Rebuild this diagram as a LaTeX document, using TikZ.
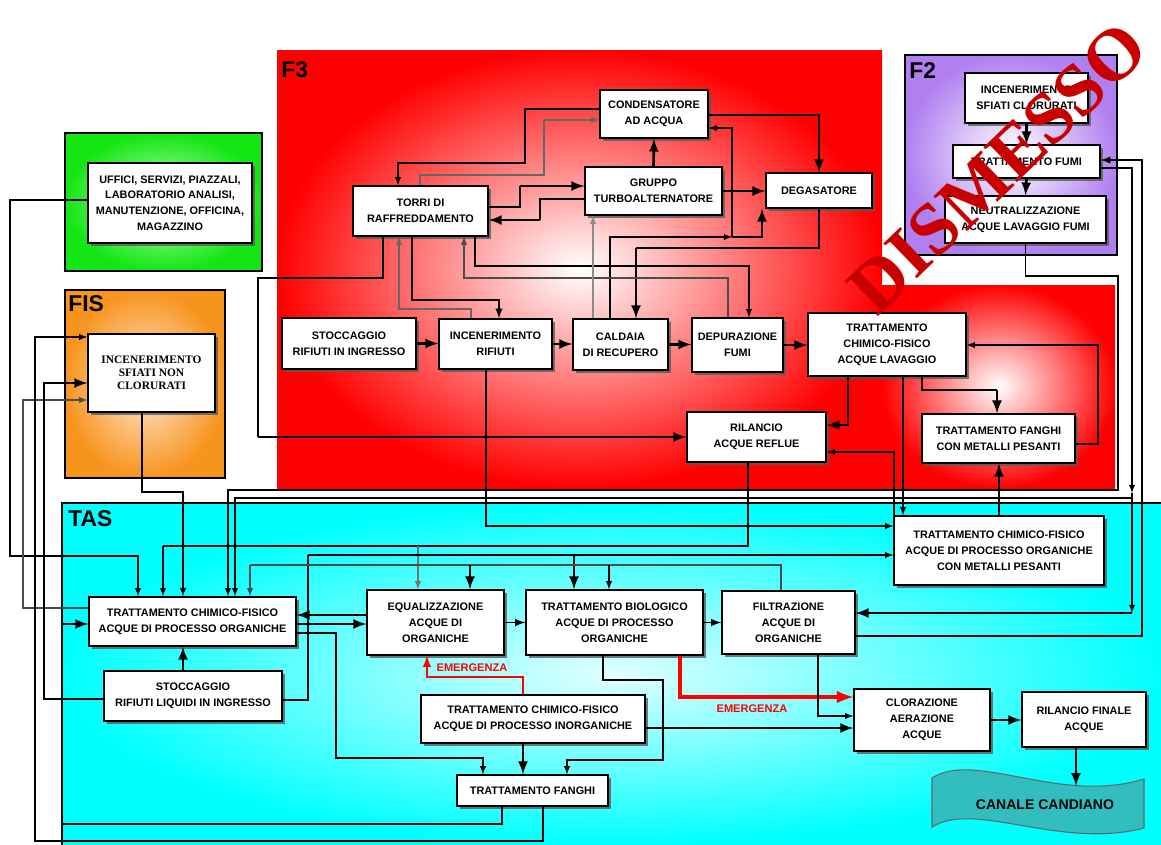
\documentclass[tikz,border=0pt]{standalone}
\usepackage{fontspec}
\setmainfont{Liberation Sans}
\newfontfamily\serifrm{Liberation Serif}
\usetikzlibrary{shadows}
\definecolor{f3red}{RGB}{255,0,0}
\definecolor{f2purple}{RGB}{176,128,240}
\definecolor{fisorange}{RGB}{247,148,30}
\definecolor{greenzone}{RGB}{20,230,20}
\definecolor{tascyan}{RGB}{0,255,255}
\definecolor{canalteal}{RGB}{50,190,190}
\definecolor{dismred}{RGB}{200,0,0}
\begin{document}
\begin{tikzpicture}[x=0.02cm,y=-0.02cm,
    box/.style={draw,line width=0.8pt,fill=white,align=center,inner sep=1pt,
      font=\bfseries\fontsize{6.2}{9}\selectfont,
      drop shadow={shadow xshift=1.8pt,shadow yshift=-1.8pt,fill=black!65,opacity=.8}},
    zone/.style={font=\bfseries\fontsize{13}{13}\selectfont,anchor=north west,inner sep=0pt},
    line/.style={line width=0.6pt},
    flow/.style={line width=0.6pt,-latex},
    bigflow/.style={line width=1.5pt,-latex},
    emerg/.style={red,line width=1.2pt,-latex},
    emergbig/.style={red,line width=2.2pt,-latex},
    emlabel/.style={red,font=\bfseries\fontsize{6.3}{6.3}\selectfont,inner sep=0pt}]
  \useasboundingbox (0,0) rectangle (1161,845);

  % zone
  \shade[inner color=green!25!white,outer color=greenzone] (65,133) rectangle (262,271);
  \draw[line width=0.8pt] (65,133) rectangle (262,271);
  \shade[inner color={rgb,255:red,255;green,235;blue,215},outer color=fisorange] (65,290) rectangle (225,478);
  \draw[line width=0.8pt] (65,290) rectangle (225,478);
  \shade[inner color=white,outer color=f3red] (277,50) rectangle (882,488);
  \shade[inner color=white,outer color=f3red] (882,285) rectangle (1115,488);
  \shade[inner color=white,outer color=f2purple] (905,55) rectangle (1117,255);
  \draw[line width=0.8pt] (905,55) rectangle (1117,255);
  \shade[inner color={rgb,255:red,225;green,255;blue,255},outer color=tascyan] (62,503) rectangle (1161,845);
  \draw[line width=0.8pt] (62,845) |- (1161,503);

  \node[zone] (labf3) at (281,61) {F3};
  \node[zone] (labf2) at (909,62) {F2};
  \node[zone] (labfis) at (68,295) {FIS};
  \node[zone] (labtas) at (68,510) {TAS};

  \node[box,minimum width=3.28cm,minimum height=1.6cm] (uffici) at (170,203) {UFFICI, SERVIZI, PIAZZALI,\\LABORATORIO ANALISI,\\MANUTENZIONE, OFFICINA,\\MAGAZZINO};
  \node[box,font=\serifrm\bfseries\fontsize{6.5}{7.3}\selectfont,minimum width=2.54cm,minimum height=1.56cm] (incsfiati) at (151.5,373) {INCENERIMENTO\\SFIATI NON\\CLORURATI};

  \node[box,minimum width=2.16cm,minimum height=0.96cm] (condens) at (654,114) {CONDENSATORE\\AD ACQUA};
  \node[box,minimum width=2.7cm,minimum height=1.0cm] (torri) at (420.5,211) {TORRI DI\\RAFFREDDAMENTO};
  \node[box,minimum width=2.74cm,minimum height=0.96cm] (gruppo) at (653.5,191) {GRUPPO\\TURBOALTERNATORE};
  \node[box,minimum width=2.12cm,minimum height=0.7cm] (degas) at (819,190.5) {DEGASATORE};
  \node[box,minimum width=2.68cm,minimum height=1.02cm] (stocc) at (349,343.5) {STOCCAGGIO\\RIFIUTI IN INGRESSO};
  \node[box,minimum width=2.26cm,minimum height=1.0cm] (incrif) at (495.5,344) {INCENERIMENTO\\RIFIUTI};
  \node[box,minimum width=1.9cm,minimum height=1.02cm] (caldaia) at (620.5,344.5) {CALDAIA\\DI RECUPERO};
  \node[box,minimum width=1.82cm,minimum height=1.08cm] (depur) at (737.5,345) {DEPURAZIONE\\FUMI};
  \node[box,minimum width=3.16cm,minimum height=1.26cm] (trattlav) at (887,344.5) {TRATTAMENTO\\CHIMICO-FISICO\\ACQUE LAVAGGIO};
  \node[box,minimum width=2.78cm,minimum height=1.0cm] (rilancio) at (756.5,437) {RILANCIO\\ACQUE REFLUE};
  \node[box,minimum width=3.06cm,minimum height=0.98cm] (fanghimet) at (998.5,438.5) {TRATTAMENTO FANGHI\\CON METALLI PESANTI};

  \node[box,minimum width=2.46cm,minimum height=1.0cm] (incclor) at (1026.5,98) {INCENERIMENTO\\SFIATI CLORURATI};
  \node[box,minimum width=2.94cm,minimum height=0.66cm] (trattfumi) at (1026.5,161.5) {TRATTAMENTO FUMI};
  \node[box,minimum width=3.22cm,minimum height=0.94cm] (neutr) at (1025.5,219.5) {NEUTRALIZZAZIONE\\ACQUE LAVAGGIO FUMI};

  \node[box,minimum width=4.14cm,minimum height=0.98cm] (tcfo) at (192.5,621.5) {TRATTAMENTO CHIMICO-FISICO\\ACQUE DI PROCESSO ORGANICHE};
  \node[box,minimum width=3.56cm,minimum height=1.0cm] (stoccliq) at (193,696) {STOCCAGGIO\\RIFIUTI LIQUIDI IN INGRESSO};
  \node[box,minimum width=2.74cm,minimum height=1.3cm] (equal) at (435.5,622.5) {EQUALIZZAZIONE\\ACQUE DI\\ORGANICHE};
  \node[box,minimum width=3.54cm,minimum height=1.3cm] (biolog) at (614.5,622.5) {TRATTAMENTO BIOLOGICO\\ACQUE DI PROCESSO\\ORGANICHE};
  \node[box,minimum width=2.66cm,minimum height=1.26cm] (filtr) at (788.5,622.5) {FILTRAZIONE\\ACQUE DI\\ORGANICHE};
  \node[box,minimum width=4.2cm,minimum height=1.38cm] (tcfmet) at (999,550.5) {TRATTAMENTO CHIMICO-FISICO\\ACQUE DI PROCESSO ORGANICHE\\CON METALLI PESANTI};
  \node[box,minimum width=4.48cm,minimum height=0.96cm] (tcfinorg) at (533,719) {TRATTAMENTO CHIMICO-FISICO\\ACQUE DI PROCESSO INORGANICHE};
  \node[box,minimum width=3.02cm,minimum height=0.62cm] (fanghi) at (532.5,790.5) {TRATTAMENTO FANGHI};
  \node[box,minimum width=2.72cm,minimum height=1.24cm] (clor) at (922,720) {CLORAZIONE\\AERAZIONE\\ACQUE};
  \node[box,minimum width=2.48cm,minimum height=1.1cm] (rilfin) at (1084,719.5) {RILANCIO FINALE\\ACQUE};

  \filldraw[fill=canalteal,draw=black!60,line width=0.6pt] (932,778) .. controls (975,750) and (1060,805) .. (1144,779)
    -- (1144,828) .. controls (1060,850) and (975,800) .. (932,827) -- cycle;
  \node[font=\bfseries\fontsize{8}{8}\selectfont] (canale) at (1045,805) {CANALE CANDIANO};
  \coordinate (canaletop) at (1076,786);

  % F3
  \draw[bigflow] (stocc.east) -- (stocc.east -| incrif.west);
  \draw[bigflow] (incrif.east) -- (incrif.east -| caldaia.west);
  \draw[bigflow] (caldaia.east) -- (caldaia.east -| depur.west);
  \draw[bigflow] (depur.east) -- (depur.east -| trattlav.west);
  \draw[bigflow] (gruppo.north) -- (condens.south);
  \draw[bigflow] (gruppo.east |- 0,191) -- (degas.west |- 0,191);
  \draw[bigflow] (condens.east |- 0,115) -| (degas.north);
  \draw[flow] (caldaia.north -| 610,0) |- (732,237);
  \draw[bigflow] (732,237) -| (degas.south -| 762,0);
  \draw[flow] (732,237) |- (condens.east |- 0,128);
  \draw[line] (degas.south) |- (636,248);
  \draw[bigflow] (636,248) -- (caldaia.north -| 636,0);
  \draw[line] (torri.east |- 0,207) -| (520,186);
  \draw[bigflow] (520,186) -- (gruppo.west |- 0,186);
  \draw[line] (gruppo.west |- 0,199) -| (540,220);
  \draw[bigflow] (540,220) -- (torri.east |- 0,220);
  \draw[flow] (condens.west |- 0,109) -| (525,163) -| (torri.north -| 398,0);
  \draw[flow,black!60] (torri.north -| 420,0) |- (544,175) |- (condens.west |- 0,120);
  \draw[line] (torri.south -| 383,0) |- (258,278) -- (258,437);
  \draw[bigflow] (258,437) -- (rilancio.west |- 0,437);
  \draw[flow,black!60] (incrif.north -| 471,0) |- (399,309) -- (torri.south -| 399,0);
  \draw[flow,line width=0.9pt] (torri.south -| 412,0) |- (499,300) -- (incrif.north -| 499,0);
  \draw[flow,black!70] (depur.north -| 728,0) |- (464,278) -- (torri.south -| 464,0);
  \draw[flow] (torri.south -| 475,0) |- (749,266) -- (depur.north -| 749,0);
  \draw[flow,black!45] (caldaia.north -| 593,0) -- (gruppo.south -| 593,0);
  \draw[bigflow] (trattlav.south -| 848,0) |- (rilancio.east |- 0,425);
  \draw[line] (trattlav.south -| 922,0) |- (997,390);
  \draw[bigflow] (997,390) -- (fanghimet.north -| 997,0);
  \draw[flow] (fanghimet.east |- 0,444) -| (1098,345) -- (trattlav.east |- 0,345);

  % F2
  \draw[bigflow] (incclor.south) -- (trattfumi.north);
  \draw[bigflow] (trattfumi.south) -- (neutr.north);

  % F3 - TAS
  \draw[flow] (trattlav.south -| 903,0) -- (tcfmet.north -| 903,0);
  \draw[flow] (tcfmet.north -| 894,0) |- (rilancio.east |- 0,452);
  \draw[bigflow] (tcfmet.north -| 999,0) -- (fanghimet.south -| 999,0);
  \draw[flow] (incrif.south -| 486,0) |- (tcfmet.west |- 0,526);
  \draw[line] (rilancio.south -| 748,0) |- (163,546);
  \draw[flow] (163,546) -- (tcfo.north -| 163,0);
  \draw[flow,black!55] (418,546) -- (equal.north -| 418,0);
  \draw[line] (stoccliq.east |- 0,700) -| (308,555);
  \draw[flow] (308,555) -- (tcfmet.west |- 0,555);
  \draw[bigflow] (574,555) -- (biolog.north -| 574,0);
  \draw[line,black!70] (filtr.north -| 781,0) |- (250,565);
  \draw[flow,black!70] (250,565) -- (tcfo.north -| 250,0);
  \draw[bigflow] (470,565) -- (equal.north -| 470,0);
  \draw[flow] (609,565) -- (biolog.north -| 609,0);
  \draw[flow] (uffici.west |- 0,200) -| (10,556) -| (tcfo.north -| 138,0);
  \draw[flow] (incsfiati.south -| 142,0) |- (183,492) -- (tcfo.north -| 183,0);
  \draw[flow] (neutr.south) |- (1118,276) -- (1118,490) -| (tcfo.north -| 228,0);
  \draw[flow] (trattfumi.east |- 0,168) -| (1132,493);
  \draw[flow] (1132,493) -- (1132,613);
  \draw[bigflow] (1132,613) -- (filtr.east |- 0,613);
  \draw[flow] (1132,498) -| (tcfo.north -| 235,0);
  \draw[flow,line width=0.9pt] (filtr.east |- 0,636) -| (1142,160) -- (trattfumi.east |- 0,160);
  \draw[flow,black!70] (tcfo.west |- 0,608) -| (23,400) -- (incsfiati.west |- 0,400);
  \draw[flow] (fanghi.south -| 543,0) |- (35,841) |- (incsfiati.west |- 0,337);
  \draw[bigflow] (stoccliq.west |- 0,699) -| (44,383) -- (incsfiati.west |- 0,383);
  \draw[bigflow] (fanghi.south -| 502,0) |- (62,824) |- (tcfo.west |- 0,624);

  % TAS
  \draw[bigflow] (tcfo.east |- 0,624) -- (equal.west |- 0,624);
  \draw[bigflow] (equal.west |- 0,615) -- (tcfo.east |- 0,615);
  \draw[flow] (tcfo.east |- 0,633) -| (336,758) -| (fanghi.north -| 483,0);
  \draw[bigflow] (stoccliq.north -| 183,0) -- (tcfo.south -| 183,0);
  \draw[flow,line width=1pt] (equal.east) -- (biolog.west);
  \draw[flow,line width=1pt] (biolog.east) -- (filtr.west);
  \draw[flow] (biolog.south -| 603,0) |- (663,680) |- (567,760) -- (fanghi.north -| 567,0);
  \draw[bigflow] (tcfinorg.south -| 523,0) -- (fanghi.north -| 523,0);
  \draw[emerg] (tcfinorg.north -| 523,0) |- (427,677) -- (equal.south -| 427,0);
  \draw[emergbig] (biolog.south -| 680,0) |- (clor.west |- 0,697);
  \draw[bigflow] (tcfinorg.east |- 0,728) -- (clor.west |- 0,728);
  \draw[flow] (filtr.south -| 818,0) |- (clor.west |- 0,716);
  \draw[bigflow] (clor.east |- 0,720) -- (rilfin.west |- 0,720);
  \draw[bigflow] (rilfin.south -| 1076,0) -- (canaletop);

  \node[emlabel] (em1) at (472,668) {EMERGENZA};
  \node[emlabel] (em2) at (752,709) {EMERGENZA};

  \node[rotate=44,text=dismred,inner sep=0pt,font=\serifrm\bfseries\fontsize{42}{42}\selectfont] (dismesso) at (998,168) {DISMESSO};
\end{tikzpicture}
\end{document}
